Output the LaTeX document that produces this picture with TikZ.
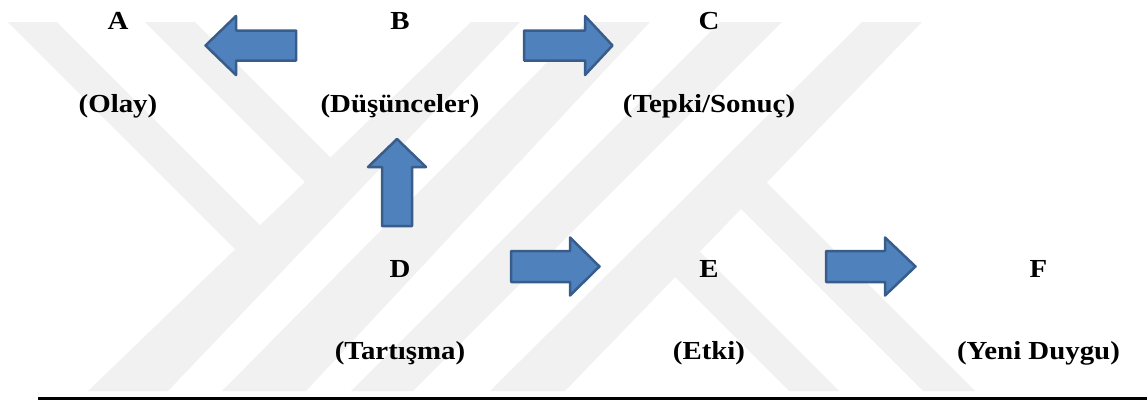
\documentclass[tikz,border=0pt]{standalone}
\usepackage{fontspec}
\setmainfont{Liberation Serif}
\definecolor{arrowfill}{RGB}{79,129,189}
\definecolor{arrowline}{RGB}{56,93,138}
\definecolor{markgray}{RGB}{241,241,241}
\tikzset{
  blockarrow/.style={fill=arrowfill, draw=arrowline, line width=0.05cm, line join=round},
  wmark/.style={fill=markgray, draw=none},
  lbl/.style={font=\bfseries\fontsize{14.8}{17}\selectfont, anchor=base, inner sep=0pt, xscale=1.11}
}

\begin{document}
\begin{tikzpicture}
  \useasboundingbox (0cm,0cm) rectangle (22.94cm,-8.02cm);
  \filldraw[wmark] (9.42cm,-0.44cm) -- (10.40cm,-0.44cm) -- (3.36cm,-7.82cm) -- (1.76cm,-7.82cm) -- cycle;
  \filldraw[wmark] (11.74cm,-0.44cm) -- (13.00cm,-0.44cm) -- (6.12cm,-7.82cm) -- (4.44cm,-7.82cm) -- cycle;
  \filldraw[wmark] (14.40cm,-0.44cm) -- (15.64cm,-0.44cm) -- (8.26cm,-7.82cm) -- (7.02cm,-7.82cm) -- cycle;
  \filldraw[wmark] (17.24cm,-0.44cm) -- (18.44cm,-0.44cm) -- (11.30cm,-7.82cm) -- (9.80cm,-7.82cm) -- cycle;
  \filldraw[wmark] (0.15cm,-0.44cm) -- (1.14cm,-0.44cm) -- (5.30cm,-4.60cm) -- (4.80cm,-5.08cm) -- cycle;
  \filldraw[wmark] (2.90cm,-0.44cm) -- (3.90cm,-0.44cm) -- (6.70cm,-3.24cm) -- (6.20cm,-3.74cm) -- cycle;
  \filldraw[wmark] (15.23cm,-3.55cm) -- (19.50cm,-7.82cm) -- (18.46cm,-7.82cm) -- (14.72cm,-4.08cm) -- cycle;
  \filldraw[wmark] (13.90cm,-4.94cm) -- (16.78cm,-7.82cm) -- (15.78cm,-7.82cm) -- (13.40cm,-5.44cm) -- cycle;

  \node[lbl] (a) at (2.36cm,-0.59cm) {A};
  \node[lbl] (olay) at (2.36cm,-2.24cm) {(Olay)};
  \node[lbl] (b) at (8.00cm,-0.59cm) {B};
  \node[lbl] (dusunceler) at (8.00cm,-2.24cm) {(Düşünceler)};
  \node[lbl] (c) at (14.18cm,-0.59cm) {C};
  \node[lbl] (tepki) at (14.18cm,-2.24cm) {(Tepki/Sonuç)};
  \node[lbl] (d) at (8.00cm,-5.54cm) {D};
  \node[lbl] (tartisma) at (8.00cm,-7.18cm) {(Tartışma)};
  \node[lbl] (e) at (14.18cm,-5.54cm) {E};
  \node[lbl] (etki) at (14.18cm,-7.18cm) {(Etki)};
  \node[lbl] (f) at (20.77cm,-5.54cm) {F};
  \node[lbl] (yeni) at (20.77cm,-7.18cm) {(Yeni Duygu)};

  \filldraw[blockarrow] (4.11cm,-0.91cm) -- (4.72cm,-0.32cm) -- (4.72cm,-0.61cm) -- (5.92cm,-0.61cm) -- (5.92cm,-1.21cm) -- (4.72cm,-1.21cm) -- (4.72cm,-1.50cm) -- cycle;
  \filldraw[blockarrow] (10.48cm,-0.61cm) -- (11.70cm,-0.61cm) -- (11.70cm,-0.32cm) -- (12.25cm,-0.91cm) -- (11.70cm,-1.50cm) -- (11.70cm,-1.21cm) -- (10.48cm,-1.21cm) -- cycle;
  \filldraw[blockarrow] (7.64cm,-4.52cm) -- (7.64cm,-3.34cm) -- (7.36cm,-3.34cm) -- (7.94cm,-2.78cm) -- (8.52cm,-3.34cm) -- (8.24cm,-3.34cm) -- (8.24cm,-4.52cm) -- cycle;
  \filldraw[blockarrow] (10.22cm,-5.02cm) -- (11.40cm,-5.02cm) -- (11.40cm,-4.75cm) -- (11.99cm,-5.33cm) -- (11.40cm,-5.91cm) -- (11.40cm,-5.64cm) -- (10.22cm,-5.64cm) -- cycle;
  \filldraw[blockarrow] (16.52cm,-5.02cm) -- (17.70cm,-5.02cm) -- (17.70cm,-4.75cm) -- (18.31cm,-5.33cm) -- (17.70cm,-5.91cm) -- (17.70cm,-5.64cm) -- (16.52cm,-5.64cm) -- cycle;

  \draw[line width=0.06cm] (0.76cm,-7.975cm) -- (22.94cm,-7.975cm);
\end{tikzpicture}
\end{document}
